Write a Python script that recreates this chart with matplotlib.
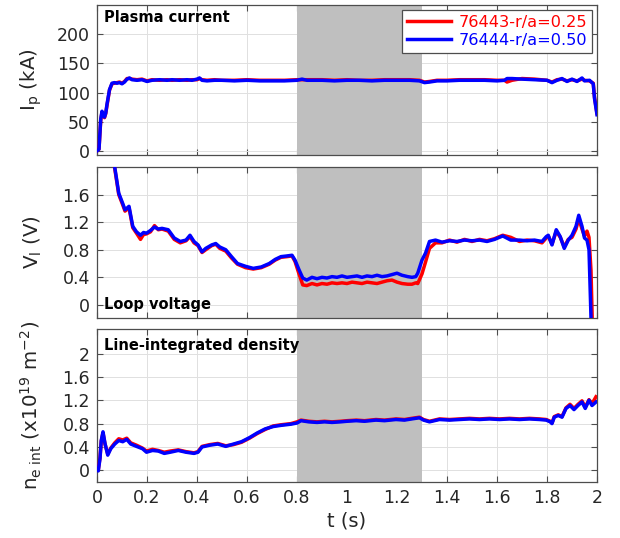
import numpy as np
import matplotlib
matplotlib.use('Agg')
import matplotlib.pyplot as plt
from matplotlib.ticker import FuncFormatter

# ---------------------------------------------------------
# DATA
# ---------------------------------------------------------
labels = ['76443-r/a=0.25', '76444-r/a=0.50']
shade_start, shade_end = 0.8, 1.3

# Plasma current (kA)
t_ip = [0.0, 0.008, 0.015, 0.02, 0.025, 0.03, 0.035, 0.04, 0.05, 0.06,
        0.07, 0.08, 0.09, 0.1, 0.11, 0.12, 0.13, 0.14, 0.16, 0.18,
        0.2, 0.22, 0.25, 0.28, 0.3, 0.33, 0.36, 0.38, 0.4, 0.41,
        0.42, 0.44, 0.47, 0.5, 0.55, 0.6, 0.65, 0.7, 0.75, 0.8,
        0.82, 0.84, 0.9, 0.95, 1.0, 1.05, 1.1, 1.15, 1.2, 1.25,
        1.29, 1.31, 1.33, 1.36, 1.4, 1.45, 1.5, 1.55, 1.6, 1.63,
        1.64, 1.66, 1.7, 1.75, 1.8, 1.82, 1.84, 1.86, 1.88, 1.9,
        1.92, 1.94, 1.95, 1.97, 1.985, 1.99, 2.0]
ip_red = [0, 3, 53, 66, 61, 57, 64, 78, 104, 115,
          116, 117, 118, 116, 119, 124, 124, 123, 122, 123,
          120, 122, 121, 122, 121, 122, 121, 122, 122, 124,
          122, 121, 122, 121, 121, 122, 121, 121, 121, 122,
          122, 122, 122, 121, 122, 121, 121, 122, 122, 122,
          121, 118, 119, 121, 121, 122, 122, 122, 121, 121,
          118, 121, 124, 123, 121, 118, 122, 123, 120, 122,
          120, 123, 121, 120, 116, 92, 64]
ip_blue = [0, 3, 55, 68, 62, 58, 65, 80, 105, 116,
           117, 116, 117, 115, 118, 123, 125, 122, 121, 122,
           119, 121, 122, 121, 122, 121, 122, 121, 123, 125,
           121, 120, 121, 121, 120, 121, 120, 120, 120, 121,
           123, 121, 121, 120, 121, 121, 120, 121, 121, 121,
           120, 117, 118, 120, 120, 121, 121, 121, 120, 121,
           124, 124, 123, 122, 121, 117, 121, 124, 119, 123,
           119, 125, 120, 121, 115, 90, 62]

# Loop voltage (V)
t_vl = [0.05, 0.07, 0.087, 0.103, 0.112, 0.119, 0.128, 0.143, 0.158, 0.174,
        0.186, 0.198, 0.214, 0.23, 0.245, 0.26, 0.285, 0.309, 0.333, 0.356,
        0.372, 0.388, 0.404, 0.42, 0.435, 0.459, 0.475, 0.491, 0.515, 0.538,
        0.562, 0.594, 0.625, 0.657, 0.689, 0.713, 0.736, 0.76, 0.78, 0.792,
        0.808, 0.823, 0.839, 0.86, 0.88, 0.9, 0.92, 0.94, 0.96, 0.98,
        1.0, 1.02, 1.04, 1.06, 1.08, 1.1, 1.12, 1.14, 1.16, 1.18,
        1.2, 1.22, 1.243, 1.26, 1.275, 1.283, 1.3, 1.314, 1.33, 1.354,
        1.38, 1.41, 1.44, 1.47, 1.5, 1.53, 1.56, 1.59, 1.623, 1.655,
        1.69, 1.72, 1.75, 1.78, 1.797, 1.805, 1.82, 1.837, 1.853, 1.869,
        1.885, 1.9, 1.916, 1.927, 1.94, 1.95, 1.96, 1.968, 1.976, 1.985]
vl_red = [2.40, 2.00, 1.60, 1.45, 1.36, 1.38, 1.41, 1.12, 1.04, 0.95,
          1.02, 1.03, 1.06, 1.15, 1.09, 1.10, 1.07, 0.95, 0.90, 0.93,
          0.99, 0.90, 0.86, 0.76, 0.80, 0.86, 0.88, 0.82, 0.78, 0.68,
          0.59, 0.54, 0.52, 0.54, 0.59, 0.65, 0.69, 0.70, 0.71, 0.63,
          0.45, 0.29, 0.28, 0.31, 0.29, 0.31, 0.30, 0.32, 0.31, 0.32,
          0.31, 0.33, 0.32, 0.31, 0.33, 0.32, 0.31, 0.33, 0.35, 0.36,
          0.33, 0.31, 0.30, 0.30, 0.32, 0.31, 0.45, 0.62, 0.82, 0.90,
          0.90, 0.94, 0.91, 0.95, 0.92, 0.95, 0.93, 0.96, 1.01, 0.98,
          0.92, 0.94, 0.93, 0.90, 0.97, 1.00, 0.88, 1.07, 0.98, 0.84,
          0.95, 0.98, 1.10, 1.25, 1.10, 1.00, 1.07, 0.98, 0.50, -0.80]
vl_blue = [2.40, 2.02, 1.62, 1.47, 1.38, 1.40, 1.43, 1.14, 1.06, 1.01,
           1.05, 1.04, 1.08, 1.13, 1.10, 1.11, 1.09, 0.97, 0.92, 0.94,
           1.01, 0.92, 0.87, 0.77, 0.82, 0.87, 0.89, 0.84, 0.80, 0.70,
           0.60, 0.56, 0.53, 0.55, 0.60, 0.66, 0.70, 0.71, 0.72, 0.65,
           0.51, 0.39, 0.36, 0.40, 0.38, 0.40, 0.39, 0.41, 0.40, 0.42,
           0.40, 0.41, 0.42, 0.40, 0.42, 0.41, 0.43, 0.41, 0.42, 0.44,
           0.46, 0.43, 0.41, 0.40, 0.41, 0.46, 0.65, 0.75, 0.92, 0.94,
           0.91, 0.93, 0.92, 0.94, 0.93, 0.94, 0.92, 0.95, 1.00, 0.94,
           0.94, 0.93, 0.94, 0.92, 0.99, 1.01, 0.87, 1.09, 0.99, 0.82,
           0.94, 1.01, 1.14, 1.30, 1.14, 0.97, 0.94, 0.80, -0.19, -0.80]

# Line-integrated density (x1e19 m^-2)
t_ne = [0.0, 0.005, 0.012, 0.017, 0.024, 0.032, 0.043, 0.055, 0.071, 0.087,
        0.103, 0.119, 0.135, 0.158, 0.182, 0.198, 0.222, 0.245, 0.269, 0.293,
        0.325, 0.356, 0.388, 0.404, 0.42, 0.451, 0.483, 0.515, 0.546, 0.578,
        0.61, 0.641, 0.673, 0.705, 0.736, 0.776, 0.8, 0.816, 0.847, 0.88,
        0.91, 0.94, 0.974, 1.0, 1.037, 1.07, 1.116, 1.15, 1.196, 1.23,
        1.259, 1.29, 1.306, 1.33, 1.37, 1.41, 1.45, 1.49, 1.53, 1.57,
        1.61, 1.65, 1.69, 1.73, 1.77, 1.797, 1.813, 1.82, 1.829, 1.845,
        1.86, 1.876, 1.892, 1.908, 1.924, 1.94, 1.953, 1.968, 1.98, 1.996]
ne_red = [0, 0.0, 0.22, 0.50, 0.64, 0.45, 0.28, 0.38, 0.47, 0.54,
          0.52, 0.55, 0.47, 0.43, 0.38, 0.33, 0.36, 0.34, 0.31, 0.33,
          0.35, 0.32, 0.30, 0.32, 0.41, 0.44, 0.46, 0.42, 0.44, 0.48,
          0.55, 0.63, 0.70, 0.76, 0.78, 0.80, 0.83, 0.86, 0.84, 0.83,
          0.84, 0.83, 0.84, 0.85, 0.86, 0.85, 0.87, 0.86, 0.88, 0.87,
          0.89, 0.91, 0.87, 0.84, 0.88, 0.87, 0.88, 0.89, 0.88, 0.89,
          0.88, 0.89, 0.88, 0.89, 0.88, 0.87, 0.84, 0.81, 0.92, 0.95,
          0.92, 1.07, 1.13, 1.06, 1.13, 1.19, 1.08, 1.21, 1.14, 1.26]
ne_blue = [0, -0.01, 0.20, 0.51, 0.66, 0.46, 0.26, 0.37, 0.45, 0.51,
           0.49, 0.53, 0.45, 0.41, 0.37, 0.31, 0.34, 0.33, 0.29, 0.31,
           0.34, 0.31, 0.29, 0.31, 0.40, 0.43, 0.45, 0.41, 0.45, 0.49,
           0.56, 0.64, 0.71, 0.75, 0.77, 0.79, 0.81, 0.85, 0.83, 0.82,
           0.83, 0.82, 0.83, 0.84, 0.85, 0.84, 0.86, 0.85, 0.87, 0.86,
           0.88, 0.90, 0.86, 0.83, 0.87, 0.86, 0.87, 0.88, 0.87, 0.88,
           0.87, 0.88, 0.87, 0.88, 0.87, 0.86, 0.83, 0.80, 0.91, 0.94,
           0.91, 1.06, 1.11, 1.04, 1.11, 1.17, 1.06, 1.20, 1.11, 1.17]

# ---------------------------------------------------------
# FIGURE
# ---------------------------------------------------------
plt.rcParams['font.family'] = 'DejaVu Sans'
fig = plt.figure(figsize=(6.2, 5.38), dpi=100)

W, H = 620.0, 538.0
left, right = 97 / W, 597 / W
# (top px, bottom px) for each panel
rows = [(5, 155), (167, 318), (329, 482)]
axes = []
for top, bot in rows:
    axes.append(fig.add_axes([left, 1 - bot / H, right - left, (bot - top) / H]))

red, blue = '#ff0000', '#0000ff'
lw = 2.5
edge = '#4d4d4d'

def style(ax, ylim, yticks):
    ax.axvspan(shade_start, shade_end, color='#bfbfbf', lw=0, zorder=1)
    ax.set_xlim(0, 2)
    ax.set_ylim(*ylim)
    ax.set_yticks(yticks)
    ax.set_xticks(np.arange(0, 2.01, 0.2))
    ax.set_axisbelow(True)
    ax.grid(True, color='#e0e0e0', lw=0.7)
    ax.tick_params(direction='in', top=True, right=True, length=4,
                   labelsize=12.5, colors=edge, labelcolor='#262626', pad=5)
    for s in ax.spines.values():
        s.set_color(edge)
        s.set_linewidth(0.9)
    ax.yaxis.set_major_formatter(FuncFormatter(lambda v, p: f'{v:g}'))
    ax.xaxis.set_major_formatter(FuncFormatter(lambda v, p: f'{v:g}'))

ax1, ax2, ax3 = axes

# Plasma current
style(ax1, (-7, 250), [0, 50, 100, 150, 200])
ax1.plot(t_ip, ip_red, color=red, lw=lw, zorder=3, label=labels[0])
ax1.plot(t_ip, ip_blue, color=blue, lw=lw, zorder=4, label=labels[1])
ax1.set_ylabel(r'I$_\mathrm{p}$ (kA)', fontsize=14.3, color='#262626')
ax1.text(0.013, 0.965, 'Plasma current', transform=ax1.transAxes,
         fontsize=10.5, fontweight='bold', va='top', ha='left', zorder=6)
leg = ax1.legend(loc='upper right', fontsize=11.6, handlelength=2.7,
                 borderaxespad=0.3, framealpha=1, fancybox=False,
                 borderpad=0.3, labelspacing=0.2, handletextpad=0.5)
leg.get_frame().set_edgecolor(edge)
leg.get_frame().set_linewidth(0.9)
for txt, c in zip(leg.get_texts(), [red, blue]):
    txt.set_color(c)
leg.set_zorder(7)

# Loop voltage
style(ax2, (-0.19, 2.0), [0, 0.4, 0.8, 1.2, 1.6])
ax2.plot(t_vl, vl_red, color=red, lw=lw, zorder=3)
ax2.plot(t_vl, vl_blue, color=blue, lw=lw, zorder=4)
ax2.set_ylabel(r'V$_\mathrm{l}$ (V)', fontsize=14.3, color='#262626')
ax2.text(0.013, 0.09, 'Loop voltage', transform=ax2.transAxes,
         fontsize=10.5, fontweight='bold', va='center', ha='left', zorder=6)

# Line-integrated density
style(ax3, (-0.2, 2.42), [0, 0.4, 0.8, 1.2, 1.6, 2.0])
ax3.plot(t_ne, ne_red, color=red, lw=lw, zorder=3)
ax3.plot(t_ne, ne_blue, color=blue, lw=lw, zorder=4)
ax3.set_ylabel(r'n$_\mathrm{e\ int}$ (x10$^{19}$ m$^{-2}$)', fontsize=14.3, color='#262626')
ax3.text(0.013, 0.89, 'Line-integrated density', transform=ax3.transAxes,
         fontsize=10.5, fontweight='bold', va='center', ha='left', zorder=6)
ax3.set_xlabel('t (s)', fontsize=14, color='#262626', labelpad=3)

for ax in (ax1, ax2):
    ax.tick_params(labelbottom=False)

for ax in axes:
    ax.yaxis.set_label_coords(-0.105, 0.5)

fig.savefig('out.png', dpi=100)
